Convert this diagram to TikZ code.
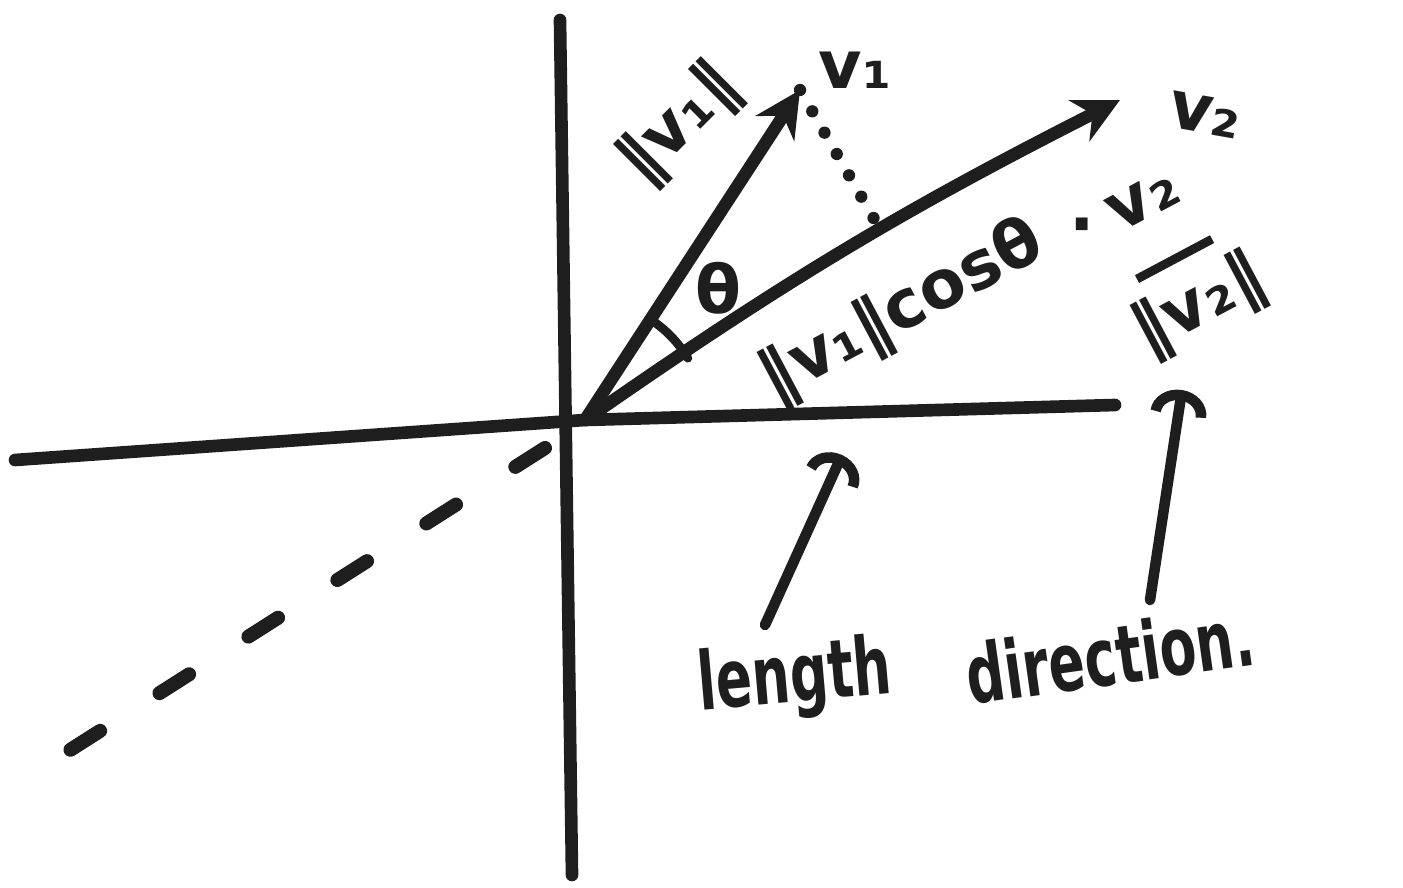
\documentclass[tikz,border=0pt]{standalone}
\usepackage{graphicx}
\usepackage{fontspec}
\setmainfont{DejaVu Sans}
\usetikzlibrary{arrows.meta, positioning}
\definecolor{ink}{RGB}{30,30,30}
\newcommand{\narrow}[1]{\scalebox{0.66}[1]{#1}}

\begin{document}
\begin{tikzpicture}[
  pen/.style={line width=7.2pt, line cap=round, draw=ink},
  vec/.style={pen, -{Stealth[length=26pt, width=26pt]}},
  hint/.style={pen, line width=6pt, -{Arc Barb[length=14pt, width=32pt]}},
  hand/.style={font=\fontsize{38}{42}\selectfont\bfseries, text=ink, inner sep=0pt, align=center},
  big/.style={hand, font=\fontsize{46}{50}\selectfont\bfseries}
]
  \useasboundingbox (0,0) rectangle (28.06,-17.76);

  % axes
  \coordinate (O) at (11.7,-8.4);
  \coordinate (xl) at (0.3,-9.2);
  \coordinate (xr) at (22.3,-8.1);
  \coordinate (yt) at (11.2,-0.4);
  \coordinate (yb) at (11.44,-17.5);
  \draw[pen] (xl) -- (O) -- (xr);
  \draw[pen] (yt) -- (yb);

  % dashed line to the lower left
  \coordinate (dn) at (10.9,-8.96);
  \coordinate (df) at (0.3,-15.7);
  \draw[pen, line width=8pt, dash pattern=on 20pt off 40pt] (dn) -- (df);

  % the two vectors
  \coordinate (v1) at (16.0,-1.8);
  \coordinate (v2) at (22.4,-2.0);
  \coordinate (ft) at (17.7,-4.76);
  \draw[vec] (O) -- (v1);
  \draw[vec] (O) to[bend left=4] (v2);
  \draw[pen, line width=7pt, dash pattern=on 0pt off 14pt] (v1) -- (ft);
  \draw[pen, line width=5pt] ([shift={(31:2.4)}]O) arc[start angle=31, end angle=57, radius=2.4];

  % labels
  \node[hand] (th) at (14.36,-5.76) {θ};
  \node[hand, rotate=45] (n1) at (13.6,-2.5) {‖v₁‖};
  \node[hand] (l1) at (17.1,-1.4) {v₁};
  \node[hand, rotate=-10] (l2) at (24.1,-2.3) {v₂};
  \node[hand, rotate=28] (pr) at (18.05,-6.25) {‖v₁‖cosθ};
  \node[hand] (dt) at (21.64,-4.66) {·};
  \node[hand, rotate=28] (fr) at (23.5,-5.2) {v₂\\[-12pt]\rule{1.7cm}{5pt}\\[-4pt]‖v₂‖};

  % what each part means
  \node[big, rotate=5] (len) at (15.9,-13.6) {\narrow{length}};
  \node[big, rotate=8] (dir) at (22.2,-13.1) {\narrow{direction.}};
  \coordinate (lt) at (16.84,-9.1);
  \coordinate (dtp) at (23.64,-7.8);
  \draw[hint] (15.3,-12.5) -- (lt);
  \draw[hint] (23.0,-12.0) -- (dtp);
\end{tikzpicture}
\end{document}
